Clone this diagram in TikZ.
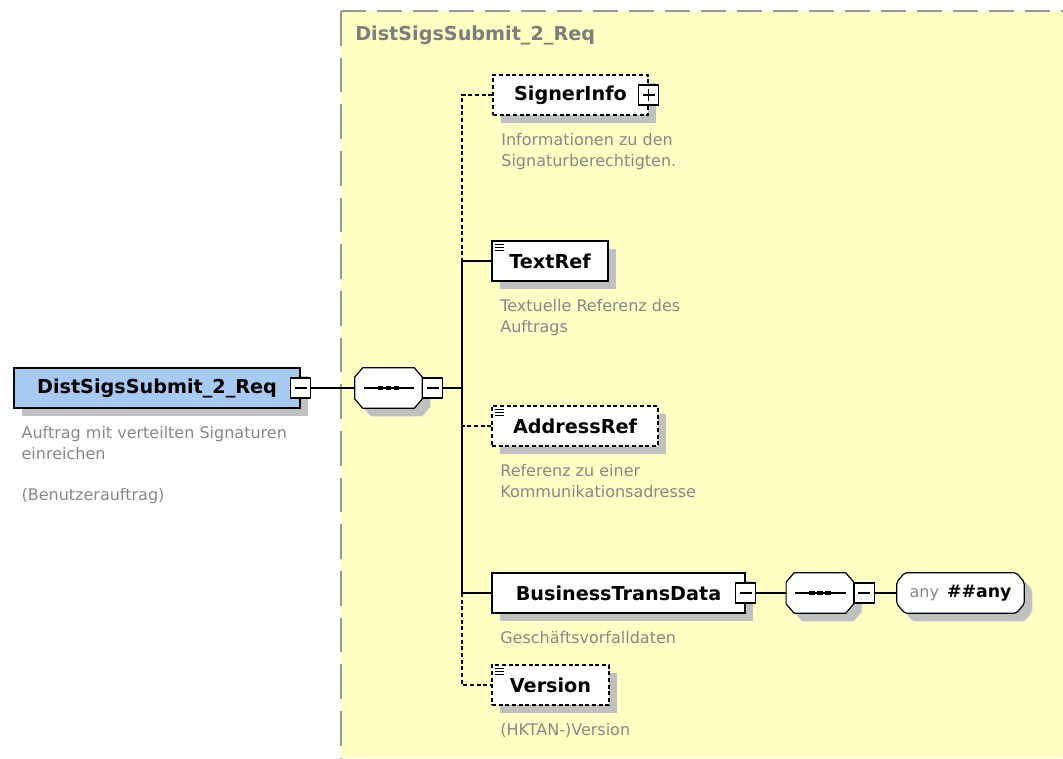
\documentclass[tikz,border=0pt]{standalone}
\usepackage{fontspec}
\setmainfont{DejaVu Sans}
\usepackage{xcolor}
\usepackage{tikz}
\usetikzlibrary{positioning,shadows}

\pgfdeclarelayer{bg}
\pgfsetlayers{bg,main}

\definecolor{panelyellow}{RGB}{255,255,196}
\definecolor{panelgray}{RGB}{150,150,150}
\definecolor{titlegray}{RGB}{125,125,125}
\definecolor{rootblue}{RGB}{166,202,240}
\definecolor{shadowgray}{RGB}{192,192,192}
\definecolor{descgray}{RGB}{135,135,135}

\newcommand{\elemfont}{\bfseries\fontsize{14.4pt}{17pt}\selectfont}
\newcommand{\descfont}{\fontsize{12pt}{15.5pt}\selectfont}

% octagon outline behind a node
\newcommand{\octshape}[2][]{%
  \begin{pgfonlayer}{bg}
    \draw[boxshadow, fill=white, line width=0.9pt, #1]
      ([xshift=6pt]#2.north west) -- ([xshift=-6pt]#2.north east)
      -- ([yshift=-7pt]#2.north east) -- ([yshift=7pt]#2.south east)
      -- ([xshift=-6pt]#2.south east) -- ([xshift=6pt]#2.south west)
      -- ([yshift=7pt]#2.south west) -- ([yshift=-7pt]#2.north west) -- cycle;
  \end{pgfonlayer}}
% sequence compositor symbol
\newcommand{\seqsymbol}[1]{%
  \draw[line width=0.9pt] ([xshift=7pt]#1.west) -- ([xshift=-6pt]#1.east);
  \foreach \dx in {-6pt,0pt,6pt}
    \fill[black] ([xshift=\dx]#1.center) +(-2pt,-1.7pt) rectangle +(2pt,1.7pt);}

\begin{document}
\begin{tikzpicture}[
    x=0.75pt, y=-0.75pt,
    boxshadow/.style={general shadow={fill=shadowgray, shadow xshift=6pt, shadow yshift=-6pt}},
    elem/.style={rectangle, draw=black, line width=0.9pt, fill=white, boxshadow,
                 minimum height=30pt, inner sep=0pt, font=\elemfont},
    optelem/.style={elem, dash pattern=on 3pt off 2pt},
    simple/.style={path picture={
        \foreach \k in {0,1,2}
          \draw[solid, black, line width=0.6pt]
            ([xshift=2pt, yshift={-2.2pt-\k*2.4pt}]path picture bounding box.north west) -- ++(7pt,0pt);}},
    togminus/.style={rectangle, draw=black, line width=0.8pt, fill=white,
                minimum size=15pt, inner sep=0pt,
                path picture={\draw[solid, black, line width=0.8pt]
                  ([xshift=3pt]path picture bounding box.west) --
                  ([xshift=-3pt]path picture bounding box.east);}},
    togplus/.style={togminus, path picture={
                  \draw[solid, black, line width=0.8pt]
                    ([xshift=3pt]path picture bounding box.west) --
                    ([xshift=-3pt]path picture bounding box.east);
                  \draw[solid, black, line width=0.8pt]
                    ([yshift=-3pt]path picture bounding box.north) --
                    ([yshift=3pt]path picture bounding box.south);}},
    seq/.style={rectangle, inner sep=0pt, minimum width=50.25pt, minimum height=30pt,
                append after command={\pgfextra{\octshape{\tikzlastnode}\seqsymbol{\tikzlastnode}}}},
    anyel/.style={rectangle, inner sep=0pt, minimum width=95.25pt, minimum height=30pt, font=\elemfont,
                append after command={\pgfextra{\octshape[rounded corners=1.5pt]{\tikzlastnode}}}},
    desc/.style={font=\descfont, text=descgray, align=left, inner sep=0pt},
    conn/.style={line width=0.9pt},
    optconn/.style={conn, dash pattern=on 3pt off 2pt},
]
    \useasboundingbox (0,0) rectangle (1063,758);

    % content model panel
    \begin{pgfonlayer}{bg}
      \fill[panelyellow] (341,11) rectangle (1063,758);
      \draw[panelgray, line width=1.4pt, dash pattern=on 19pt off 8pt] (341,11) -- (1063,11);
      \draw[panelgray, line width=1.4pt, dash pattern=on 26pt off 9pt] (341,11) -- (341,758);
    \end{pgfonlayer}
    \node[font=\elemfont, text=titlegray, inner sep=0pt, anchor=base west] (ttl) at (355,40) {DistSigsSubmit\_2\_Req};

    % root element
    \node[elem, fill=rootblue, line width=1pt, minimum width=214.5pt] (root) at (157,388) {DistSigsSubmit\_2\_Req};
    \node[togminus] (rootpm) at (root.east) {};
    \node[desc, below right=13pt and 6pt of root.south west] (rootd)
        {Auftrag mit verteilten Signaturen\\einreichen\\[15.5pt](Benutzerauftrag)};

    % sequence
    \node[seq] (seqa) at (388.5,388) {};
    \node[togminus, right=0pt of seqa] (seqapm) {};
    \coordinate (jn) at (462,388);

    % children
    \node[optelem, minimum width=116.25pt] (sig) at (570.5,95) {SignerInfo\hspace{4pt}};
    \node[togplus] (sigpm) at (sig.east) {};
    \node[desc, below right=13pt and 6.5pt of sig.south west] (sigd)
        {Informationen zu den\\Signaturberechtigten.};

    \node[elem, simple, minimum width=87pt] (txt) at (550,261) {TextRef};
    \node[desc, below right=13pt and 6.5pt of txt.south west] (txtd)
        {Textuelle Referenz des\\Auftrags};

    \node[optelem, simple, minimum width=124.5pt] (adr) at (575,426) {AddressRef};
    \node[desc, below right=13pt and 6.5pt of adr.south west] (adrd)
        {Referenz zu einer\\Kommunikationsadresse};

    \node[elem, minimum width=189.75pt] (bus) at (618.5,593) {BusinessTransData\hspace{4pt}};
    \node[togminus] (buspm) at (bus.east) {};
    \node[desc, below right=13pt and 6.5pt of bus.south west] (busd)
        {Geschäftsvorfalldaten};

    \node[optelem, simple, minimum width=87.75pt] (ver) at (550.5,685) {Version};
    \node[desc, below right=13pt and 6.5pt of ver.south west] (verd)
        {(HKTAN-)Version};

    % nested sequence with wildcard
    \node[seq, right=22.5pt of buspm] (seqb) {};
    \node[togminus, right=0pt of seqb] (seqbpm) {};
    \node[anyel, right=16.5pt of seqbpm] (anyb)
        {{\descfont\mdseries\color{descgray}any}\hspace{6pt}{\fontsize{13pt}{15pt}\selectfont\#\#any}};

    % connectors
    \draw[conn] (rootpm) -- (seqa);
    \draw[conn] (seqapm) -- (jn);
    \draw[optconn] (sig.west) -| (jn |- txt.west);
    \draw[conn] (txt.west) -| (jn |- bus.west);
    \draw[optconn] (adr.west) -- (jn |- adr.west);
    \draw[conn] (bus.west) -- (jn |- bus.west);
    \draw[optconn] (jn |- bus.west) |- (ver.west);
    \draw[conn] (buspm) -- (seqb);
    \draw[conn] (seqbpm) -- (anyb);
\end{tikzpicture}
\end{document}
